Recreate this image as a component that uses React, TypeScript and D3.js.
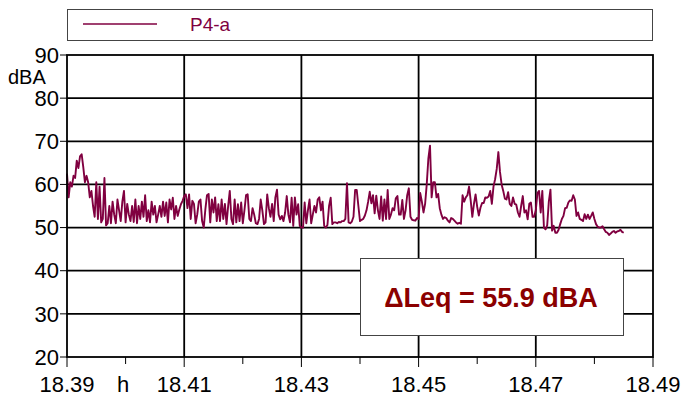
import React from "react";
import * as d3 from "d3";

const seriesName = "P4-a";
const startHour = 18.39;
const stepSeconds = 1;
const levels: number[] = [
  62.5,57,60.5,59.5,62,61.5,65.5,63.8,66.5,67,64,60.5,62,60.5,57,58.5,55,52.5,60.5,52,59.5,51.2,52,61.5,50.5,51,55,51,56,53,51,56.5,54,51.5,56,58.5,51.2,55.5,53,51.5,55,51.3,56.5,51,55,52,56,52.5,57.5,51.5,54,51.2,56,53,55,51.2,53,55,
  52.5,56,52.7,55.8,51.2,56.5,54.2,56.9,52,55,52.7,54.2,55.4,56.2,57.3,57.7,54.5,57.7,52,56.2,55.5,51,53,56,56.5,51.5,50,54.2,57.5,57.8,51.2,56.5,53.5,57,51.5,55.4,51.5,56.5,52,55.5,50.8,55,58.5,52,50.8,56.5,51.2,55.4,51.5,55.8,51,54,57.5,57.7,52,51.5,54.5,
  53,51,50.8,52,56.5,54,50.8,51.2,57.7,54.5,52.5,55.5,51.5,57,58.8,53,51.9,52.7,51.5,53.5,57.3,53,51.2,56.9,50.4,57,53,55.4,50.4,50,50,55.8,51,54,56.5,51,53,55,53.5,56.5,57,54,56,50.4,50,50.6,55,56.9,50.8,51.2,51.2,51,51.3,51.2,51.5,51.5,52,60.3,
  51.2,51,51.4,52.5,58.7,58.7,55,51.5,51.8,52,52.8,54,56,58.3,55.6,57.5,53.3,57.4,54,52,57.2,51.6,56.5,52,58.7,52,53,54.5,54,56.8,57.3,53,53,56.4,52,54,57.5,59.1,52.5,51.8,51.7,51.6,52.2,52,58,56,53.5,55.5,60,66,69,
  57,60.5,60.5,57,57.8,54.5,53,52,52.4,52.2,51.6,51.2,52.2,52,51.6,51.2,50.9,51.1,50.9,57.5,56,57,57.5,59.5,56.3,52.5,55.5,57.7,54.8,52.8,54.6,55.7,55.7,57,56.9,57.2,58.5,55.5,59.5,61.2,63.6,67.5,62.9,60,58.5,56.7,56.5,58.2,55.5,55,57,55.5,55.3,53.5,
  52.5,55,57.3,53.5,54,51.9,55.5,55.8,52.5,52.5,54,58,58.5,53.5,58.5,50,49.6,50.5,56,58.8,49.3,50.4,48.8,48.8,49.5,50.8,52,52.7,54.5,54.6,55.8,56.3,56.2,57.5,56.5,52.7,53.5,52,51.8,51.5,53.1,52,53,52,52.7,53.5,52,50.8,50.2,50,50,50.3,49.6,49,48.8,48.3,48.6,49,49.2,48.8,49.1,49.2,49.5,49,48.8,
];
const yTicks = [20, 30, 40, 50, 60, 70, 80, 90];
const xTicks = [18.39, 18.41, 18.43, 18.45, 18.47, 18.49];
const xMinorTicks = [18.40, 18.42, 18.44, 18.46, 18.48];
const yUnit = "dBA";
const xUnit = "h";
const annotation = "\u0394Leq = 55.9 dBA";

const W = 682, H = 401;
const L = 67, R = 653, T = 55, B = 357;
const lineColor = "#800040";
const font = "'Liberation Sans', Arial, sans-serif";

export default function App() {
  const x = d3.scaleLinear().domain([18.39, 18.49]).range([L, R]);
  const y = d3.scaleLinear().domain([20, 90]).range([B, T]);
  const pts = levels.map((v, i) => [startHour + (i * stepSeconds) / 3600, v] as [number, number]);
  const line = d3.line<[number, number]>().x(d => x(d[0])).y(d => y(d[1]));
  const fmt = d3.format(".2f");
  return (
    <div style={{ position: "fixed", left: 0, top: 0 }}>
      <svg width={W} height={H} style={{ display: "block", background: "#fff" }} fontFamily={font}>
        {/* legend */}
        <rect x={67.5} y={9.5} width={585} height={31} fill="#fff" stroke="#444" strokeWidth={1} />
        <line x1={83} x2={157} y1={24} y2={24} stroke={lineColor} strokeWidth={1.5} />
        <text x={190} y={31} fontSize={19} fill={lineColor}>{seriesName}</text>

        {/* gridlines */}
        {yTicks.filter(t => t > 20 && t < 90).map(t => (
          <line key={"gy" + t} x1={L} x2={R} y1={y(t)} y2={y(t)} stroke="#000" strokeWidth={1.8} />
        ))}
        {xTicks.filter(t => t > 18.39 && t < 18.49).map(t => (
          <line key={"gx" + t} x1={x(t)} x2={x(t)} y1={T} y2={B} stroke="#000" strokeWidth={1.8} />
        ))}

        {/* data */}
        <path d={line(pts) || ""} fill="none" stroke={lineColor} strokeWidth={1.9} strokeLinejoin="round" />

        {/* annotation box */}
        <rect x={360.5} y={258.5} width={263} height={77} fill="#fff" stroke="#444" strokeWidth={1} />
        <text x={491} y={307} fontSize={27} fontWeight="bold" fill="#8b0000" textAnchor="middle">{annotation}</text>

        {/* frame */}
        <rect x={L} y={T} width={R - L} height={B - T} fill="none" stroke="#000" strokeWidth={1.8} />

        {/* y axis */}
        {yTicks.map(t => (
          <g key={"yt" + t}>
            <line x1={L - 7} x2={L} y1={y(t)} y2={y(t)} stroke="#000" strokeWidth={1} />
            <text x={L - 8} y={y(t)} dy="0.35em" fontSize={22} textAnchor="end" fill="#000">{t}</text>
          </g>
        ))}
        <text x={8} y={84} fontSize={20} fill="#000">{yUnit}</text>

        {/* x axis */}
        {xTicks.map(t => (
          <g key={"xt" + t}>
            <line x1={x(t)} x2={x(t)} y1={B} y2={B + 10} stroke="#000" strokeWidth={1} />
            <text x={x(t)} y={392} fontSize={22} textAnchor="middle" fill="#000">{fmt(t)}</text>
          </g>
        ))}
        {xMinorTicks.map(t => (
          <line key={"xm" + t} x1={x(t)} x2={x(t)} y1={B} y2={B + 7} stroke="#000" strokeWidth={1} />
        ))}
        <text x={123} y={392} fontSize={22} textAnchor="middle" fill="#000">{xUnit}</text>
      </svg>
    </div>
  );
}
